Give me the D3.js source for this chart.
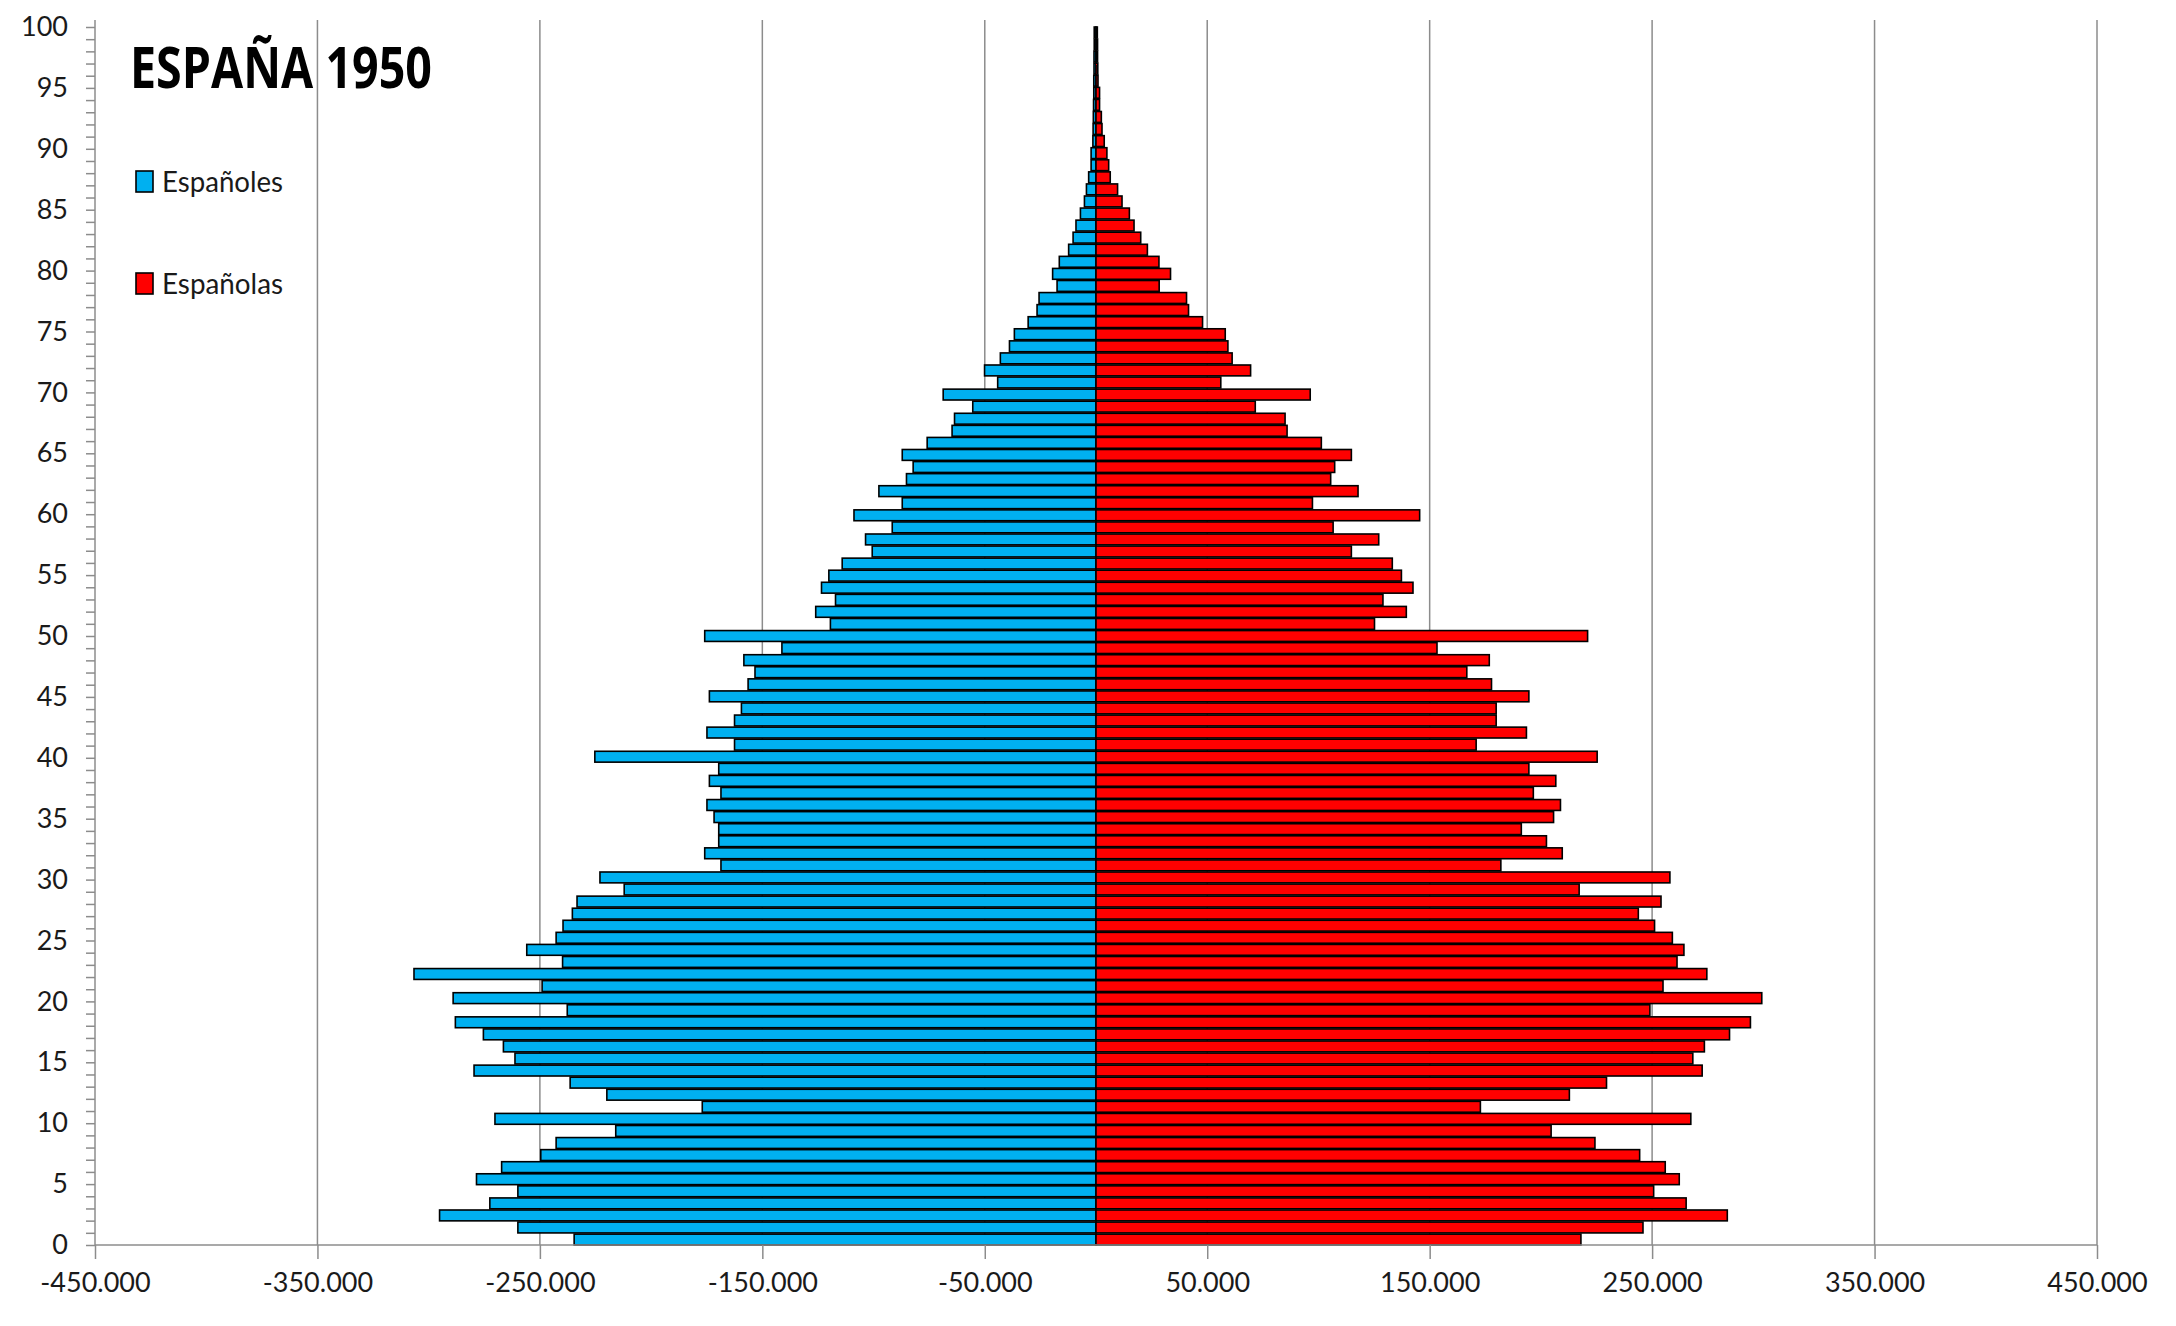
<!DOCTYPE html>
<html>
<head>
<meta charset="utf-8">
<script src="https://cdn.jsdelivr.net/npm/d3@7"></script>
<style>
  body { margin: 0; background: #fff; }
  svg { display: block; }
</style>
</head>
<body>
<svg id="chart" width="2176" height="1326"></svg>
<script>
/* data: población por edad, miles de personas (España 1950) */

var ages = d3.range(0, 101);

var espanoles = [
  234.6, 259.9, 295.1, 272.5, 259.9, 278.5, 267.2, 249.6, 242.7, 215.9,
  270.2, 177.0, 219.9, 236.4, 279.6, 261.2, 266.4, 275.4, 288.0, 237.7,
  289.0, 249.0, 306.6, 239.8, 255.9, 242.7, 239.6, 235.4, 233.3, 212.1,
  223.0, 168.6, 175.9, 169.6, 169.6, 171.7, 174.9, 168.6, 173.8, 169.6,
  225.3, 162.5, 174.9, 162.5, 159.4, 173.8, 156.4, 153.3, 158.3, 141.2,
  175.9, 119.4, 126.0, 117.1, 123.4, 120.1, 114.1, 100.6, 103.6, 91.6,
  108.8, 87.1, 97.6, 85.2, 82.2, 87.1, 75.9, 64.7, 63.6, 55.4,
  68.7, 44.2, 50.1, 43.0, 38.9, 36.7, 30.5, 26.5, 25.6, 17.5,
  19.5, 16.5, 12.3, 10.3, 9.0, 7.0, 5.2, 4.3, 3.3, 2.2,
  2.2, 1.4, 1.3, 1.2, 1.1, 1.0, 1.0, 0.9, 0.9, 0.8,
  0.8
];

var espanolas = [
  218.0, 245.9, 283.8, 265.3, 250.7, 262.2, 255.9, 244.4, 224.3, 204.6,
  267.4, 172.8, 212.8, 229.5, 272.5, 268.3, 273.5, 284.8, 294.2, 249.0,
  299.3, 254.9, 274.6, 261.2, 264.3, 259.1, 251.1, 243.8, 254.0, 217.2,
  258.0, 182.0, 209.6, 202.5, 191.2, 205.7, 208.8, 196.6, 206.7, 194.6,
  225.3, 170.9, 193.5, 179.9, 179.9, 194.6, 177.8, 166.7, 176.8, 153.3,
  221.0, 125.2, 139.5, 129.0, 142.5, 137.3, 133.2, 114.8, 127.1, 106.6,
  145.5, 97.3, 117.8, 105.5, 107.3, 114.8, 101.3, 85.9, 85.0, 71.6,
  96.3, 56.1, 69.5, 61.2, 59.3, 58.1, 47.9, 41.6, 40.7, 28.4,
  33.5, 28.3, 23.1, 20.1, 17.1, 15.0, 11.7, 9.7, 6.4, 5.7,
  4.9, 3.7, 2.7, 2.4, 1.6, 1.6, 0.9, 0.8, 0.7, 0.7,
  0.6
];

var xTicks = d3.range(-450000, 450001, 100000);
var yTicks = d3.range(0, 101, 1);

var titulo = "ESPAÑA 1950";
var series = ["Españoles", "Españolas"];
var colores = ["#00B0F0", "#FF0000"];

/* scales */

var svg = d3.select("#chart");

var x = d3.scaleLinear().domain([-450000, 450000]).range([95, 2097]);
var y = d3.scaleBand().domain(ages).range([1245, 27]).paddingInner(0.1);
var yLab = d3.scaleLinear().domain([0, 100]).range([1245, 27]);

var es = d3.formatLocale({decimal: ",", thousands: ".", grouping: [3], currency: ["", ""], minus: "-"});
var fmt = es.format(",.0f");

svg.append("rect").attr("width", 2176).attr("height", 1326).attr("fill", "#fff");

// grid
svg.append("g")
  .selectAll("line")
  .data(xTicks.filter(function(d){ return d > -450000; }))
  .join("line")
  .attr("x1", function(d){ return x(d); })
  .attr("x2", function(d){ return x(d); })
  .attr("y1", 20)
  .attr("y2", 1245)
  .attr("stroke", "#8c8c8c")
  .attr("stroke-width", 1.5);

// bars
var bars = svg.append("g").attr("stroke", "#000").attr("stroke-width", 1.6);

bars.selectAll("rect.m")
  .data(ages)
  .join("rect")
  .attr("class", "m")
  .attr("x", function(d){ return x(-espanoles[d] * 1000); })
  .attr("width", function(d){ return x(0) - x(-espanoles[d] * 1000); })
  .attr("y", function(d){ return y(d); })
  .attr("height", y.bandwidth())
  .attr("fill", colores[0]);

bars.selectAll("rect.f")
  .data(ages)
  .join("rect")
  .attr("class", "f")
  .attr("x", x(0))
  .attr("width", function(d){ return x(espanolas[d] * 1000) - x(0); })
  .attr("y", function(d){ return y(d); })
  .attr("height", y.bandwidth())
  .attr("fill", colores[1]);

// axes
var xAxis = svg.append("g")
  .attr("transform", "translate(0,1245)")
  .call(d3.axisBottom(x).tickValues(xTicks).tickFormat(fmt).tickSize(14).tickPadding(14).tickSizeOuter(0));

var yAxis = svg.append("g")
  .attr("transform", "translate(95,0)")
  .call(d3.axisLeft(yLab).tickValues(yTicks).tickFormat(function(d){ return d % 5 === 0 ? d : ""; }).tickSize(9).tickPadding(18).tickSizeOuter(0));

svg.selectAll(".domain").attr("stroke", "#8c8c8c").attr("stroke-width", 1.5);
svg.selectAll(".tick line").attr("stroke", "#8c8c8c").attr("stroke-width", 1.5);
svg.selectAll(".tick text")
  .attr("fill", "#1a1a1a")
  .style("font-family", "Lato, 'Open Sans', sans-serif")
  .style("font-size", "27px");
yAxis.select(".domain").attr("d", "M0,20V1245");
xAxis.select(".domain").attr("d", "M95,0H2097");

// title
svg.append("text")
  .attr("x", 130)
  .attr("y", 88)
  .attr("textLength", 302)
  .attr("lengthAdjust", "spacingAndGlyphs")
  .style("font-family", "'Open Sans', sans-serif")
  .style("font-weight", "bold")
  .style("font-size", "57px")
  .attr("fill", "#000")
  .text(titulo);

// legend
var leg = svg.append("g").selectAll("g")
  .data(series)
  .join("g")
  .attr("transform", function(d, i){ return "translate(136," + (171 + i * 102) + ")"; });

leg.append("rect")
  .attr("width", 17)
  .attr("height", 21)
  .attr("fill", function(d, i){ return colores[i]; })
  .attr("stroke", "#000")
  .attr("stroke-width", 1.6);

leg.append("text")
  .attr("x", 26)
  .attr("y", 21)
  .attr("textLength", 121)
  .attr("lengthAdjust", "spacingAndGlyphs")
  .style("font-family", "Lato, 'Open Sans', sans-serif")
  .style("font-size", "29px")
  .attr("fill", "#1a1a1a")
  .text(function(d){ return d; });
</script>
</body>
</html>
